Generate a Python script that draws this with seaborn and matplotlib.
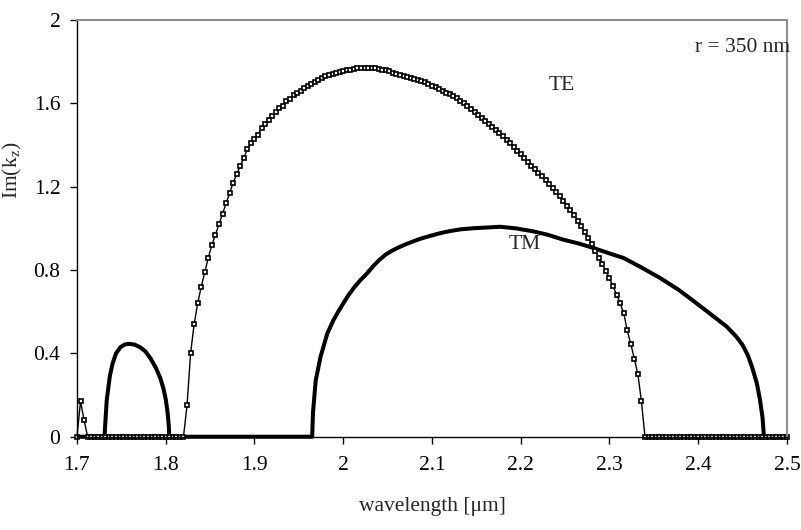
import numpy as np
import pandas as pd
import matplotlib
matplotlib.use("Agg")
import matplotlib.pyplot as plt
import seaborn as sns

# TE branch, sampled every 4 nm from 1.700 to 2.500 um
te_wl = np.round(np.arange(1.700, 2.5001, 0.004), 3)
te_spike = [0.0, 0.17, 0.08]          # 1.700 .. 1.708
te_band = [                            # 1.824 .. 2.336
    0.15, 0.40, 0.54, 0.64, 0.72, 0.79, 0.86, 0.92, 0.97, 1.02,
    1.07, 1.12, 1.17, 1.22, 1.26, 1.30, 1.34, 1.38, 1.41, 1.43,
    1.45, 1.48, 1.50, 1.52, 1.54, 1.56, 1.58, 1.59, 1.61, 1.62,
    1.64, 1.65, 1.66, 1.675, 1.685, 1.695, 1.705, 1.715, 1.722, 1.730,
    1.737, 1.743, 1.748, 1.752, 1.756, 1.760, 1.763, 1.766, 1.768, 1.770,
    1.771, 1.771, 1.770, 1.768, 1.766, 1.763, 1.760, 1.754, 1.748, 1.742,
    1.736, 1.731, 1.727, 1.723, 1.719, 1.715, 1.710, 1.702, 1.694, 1.686,
    1.678, 1.670, 1.661, 1.652, 1.643, 1.634, 1.624, 1.614, 1.600, 1.586,
    1.572, 1.558, 1.543, 1.528, 1.514, 1.500, 1.486, 1.472, 1.458, 1.442,
    1.426, 1.409, 1.392, 1.374, 1.356, 1.338, 1.320, 1.302, 1.285, 1.268,
    1.250, 1.232, 1.213, 1.194, 1.175, 1.156, 1.133, 1.110, 1.087, 1.063,
    1.038, 1.012, 0.984, 0.955, 0.924, 0.892, 0.860, 0.828, 0.795, 0.760,
    0.722, 0.682, 0.640, 0.595, 0.510, 0.445, 0.375, 0.300, 0.170,
]
n_gap1 = int(np.sum((te_wl > 1.709) & (te_wl < 1.823)))
n_gap2 = len(te_wl) - len(te_spike) - n_gap1 - len(te_band)
te_im = te_spike + [0.0] * n_gap1 + te_band + [0.0] * n_gap2

# TM branch
tm_wl = [1.700, 1.731, 1.7335, 1.737, 1.740, 1.744, 1.749, 1.754, 1.759, 1.765,
         1.771, 1.777, 1.783, 1.789, 1.794, 1.7975, 1.800, 1.802, 1.8035, 1.804,
         1.965, 1.966, 1.969, 1.9745, 1.982, 1.989, 1.995, 2.000, 2.006, 2.012,
         2.019, 2.027, 2.034, 2.041, 2.048, 2.055, 2.063, 2.071, 2.079, 2.088,
         2.097, 2.109, 2.121, 2.133, 2.147, 2.160, 2.177, 2.195, 2.214, 2.230,
         2.248, 2.265, 2.282, 2.300, 2.316, 2.335, 2.357, 2.378, 2.398, 2.415,
         2.432, 2.443, 2.450, 2.456, 2.461, 2.466, 2.4695, 2.4725, 2.474, 2.500]
tm_im = [0.0, 0.0, 0.175, 0.29, 0.35, 0.40, 0.43, 0.443, 0.446, 0.442,
         0.43, 0.41, 0.375, 0.33, 0.28, 0.23, 0.18, 0.12, 0.05, 0.0,
         0.0, 0.12, 0.27, 0.385, 0.495, 0.56, 0.605, 0.64, 0.68, 0.715,
         0.75, 0.785, 0.82, 0.85, 0.875, 0.893, 0.91, 0.925, 0.938, 0.952,
         0.963, 0.977, 0.988, 0.996, 1.001, 1.004, 1.008, 1.0, 0.986, 0.97,
         0.946, 0.928, 0.906, 0.88, 0.858, 0.815, 0.762, 0.705, 0.641, 0.585,
         0.529, 0.48, 0.44, 0.39, 0.33, 0.257, 0.18, 0.09, 0.0, 0.0]

x_ticks = [1.7, 1.8, 1.9, 2.0, 2.1, 2.2, 2.3, 2.4, 2.5]
x_labels = ["1.7", "1.8", "1.9", "2", "2.1", "2.2", "2.3", "2.4", "2.5"]
y_ticks = [0, 0.4, 0.8, 1.2, 1.6, 2.0]
y_labels = ["0", "0.4", "0.8", "1.2", "1.6", "2"]

sns.set_style("ticks")
plt.rcParams["font.family"] = ["Liberation Serif", "DejaVu Serif"]
plt.rcParams["mathtext.fontset"] = "custom"
plt.rcParams["mathtext.rm"] = "Liberation Serif"
fs = 15.5

fig = plt.figure(figsize=(8.01, 5.30), dpi=100)
ax = fig.add_axes([0.0961, 0.176, 0.8864, 0.786])

sns.lineplot(x=tm_wl, y=tm_im, color="black", linewidth=2.9,
             estimator=None, sort=False, ax=ax, clip_on=False)
sns.lineplot(x=te_wl, y=te_im, color="black", linewidth=1.0,
             marker="s", markersize=3.4, markerfacecolor="white",
             markeredgecolor="black", markeredgewidth=1.2,
             estimator=None, sort=False, ax=ax, clip_on=False)

ax.set_xlim(1.7, 2.5)
ax.set_ylim(0, 2)
ax.set_xticks(x_ticks)
ax.set_xticklabels(x_labels)
ax.set_yticks(y_ticks)
ax.set_yticklabels(y_labels)
ax.tick_params(direction="out", length=5, width=1, colors="black",
               labelsize=fs)
ax.tick_params(axis="x", pad=9)
ax.tick_params(axis="y", pad=7)

for side in ["left", "bottom"]:
    ax.spines[side].set_color("black")
    ax.spines[side].set_linewidth(1.0)
for side in ["top", "right"]:
    ax.spines[side].set_visible(True)
    ax.spines[side].set_color("#8c8c8c")
    ax.spines[side].set_linewidth(1.5)

ax.set_xlabel("wavelength [\u03bcm]", fontsize=fs)
ax.xaxis.set_label_coords(0.5, -0.145)
ax.set_ylabel(r"Im(k$_{\mathrm{z}}$)", fontsize=fs)
ax.yaxis.set_label_coords(-0.075, 0.64)

ax.text(2.231, 1.667, "TE", fontsize=fs)
ax.text(2.186, 0.902, "TM", fontsize=fs)
ax.text(2.5034, 1.848, "r = 350 nm", fontsize=fs, ha="right")

fig.savefig("out.png", dpi=100)
